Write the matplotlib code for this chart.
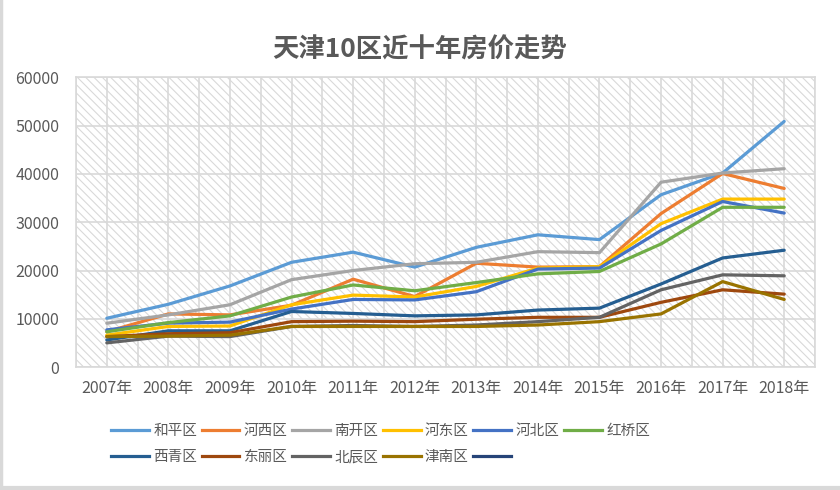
import matplotlib
matplotlib.use("Agg")
import matplotlib.pyplot as plt
from matplotlib.lines import Line2D
from matplotlib.patches import Rectangle

plt.rcParams['font.family'] = ['Noto Sans CJK SC', 'DejaVu Sans']
plt.rcParams['hatch.color'] = '#D9D9D9'
plt.rcParams['hatch.linewidth'] = 0.8

years = ['2007年', '2008年', '2009年', '2010年', '2011年', '2012年',
         '2013年', '2014年', '2015年', '2016年', '2017年', '2018年']

heping   = [10100, 13000, 16800, 21700, 23800, 20700, 24800, 27400, 26400, 35700, 40200, 50900]
hexi     = [7300, 11000, 10800, 12800, 18200, 14600, 21500, 20700, 20800, 31800, 40100, 37000]
nankai   = [9070, 10800, 12900, 18100, 20000, 21400, 21700, 23900, 23700, 38300, 40200, 41100]
hedong   = [6600, 8400, 8500, 12900, 14900, 14500, 16700, 20500, 20800, 29700, 34800, 34800]
hebei    = [7700, 9100, 9300, 12000, 14000, 13900, 15600, 20300, 20500, 28300, 34300, 31900]
hongqiao = [7300, 9200, 10600, 14500, 17000, 15800, 17500, 19300, 19800, 25500, 33100, 33100]
xiqing   = [5600, 7500, 7500, 11500, 11100, 10600, 10800, 11800, 12200, 17200, 22600, 24200]
dongli   = [6300, 6900, 7100, 9400, 9500, 9400, 9900, 10300, 10300, 13400, 16000, 15100]
beichen  = [5000, 6400, 6300, 8400, 8600, 8400, 8700, 9400, 10300, 16000, 19100, 18900]
jinnan   = [6300, 6400, 6600, 8400, 8400, 8400, 8400, 8700, 9400, 11000, 17700, 14000]

series = [
    ('和平区', heping, '#5B9BD5'),
    ('河西区', hexi, '#ED7D31'),
    ('南开区', nankai, '#A5A5A5'),
    ('河东区', hedong, '#FFC000'),
    ('河北区', hebei, '#4472C4'),
    ('红桥区', hongqiao, '#70AD47'),
    ('西青区', xiqing, '#255E91'),
    ('东丽区', dongli, '#9E480E'),
    ('北辰区', beichen, '#636363'),
    ('津南区', jinnan, '#997300'),
]
blank_color = '#264478'

W, H = 840, 490
fig = plt.figure(figsize=(W/100, H/100), dpi=100)
left, right, top, bottom = 76, 815, 77.5, 367
ax = fig.add_axes([left/W, 1-bottom/H, (right-left)/W, (bottom-top)/H])

# hatched background
ax.add_patch(Rectangle((0, 0), 1, 1, transform=ax.transAxes, facecolor='white',
                       edgecolor='#D9D9D9', hatch='\\\\\\\\', lw=0, zorder=0))

x = list(range(len(years)))
handles = {}
for name, vals, col in series:
    ax.plot(x, vals, color=col, lw=2.3, solid_capstyle='round', zorder=3)
    handles[name] = Line2D([], [], color=col, lw=2.3)
blank_handle = Line2D([], [], color=blank_color, lw=2.3)

ax.set_xlim(-0.5, len(years)-0.5)
ax.set_ylim(0, 60000)
ax.set_yticks(range(0, 60001, 10000))
ax.set_xticks(x)
ax.set_xticklabels(years)
ax.set_xticks([i - 0.5 for i in range(len(years)+1)], minor=True)
ax.grid(True, which='major', color='#D9D9D9', lw=1.2, zorder=1)
ax.grid(True, which='minor', axis='x', color='#D9D9D9', lw=1.2, zorder=1)
ax.tick_params(which='both', length=0)
ax.tick_params(axis='both', labelsize=11.5, labelcolor='#595959')
ax.tick_params(axis='y', pad=12)
ax.tick_params(axis='x', pad=9)
for sp in ax.spines.values():
    sp.set_color('#D9D9D9')
    sp.set_linewidth(1.2)
ax.set_axisbelow(True)

fig.text(420/W, 1-50/H, '天津10区近十年房价走势', ha='center', va='center',
         fontsize=19, fontweight='bold', color='#595959')

order = ['和平区', '西青区', '河西区', '东丽区', '南开区', '北辰区', '河东区', '津南区', '河北区', None, '红桥区']
hs, ls = [], []
for n in order:
    if n is None:
        hs.append(blank_handle); ls.append('')
    else:
        hs.append(handles[n]); ls.append(n)
leg = fig.legend(hs, ls, ncol=6, loc='upper left', bbox_to_anchor=(111/W, 1-424/H),
                 frameon=False, fontsize=10.5, handlelength=2.6, handletextpad=0.3,
                 columnspacing=0.3, labelspacing=0.85, borderpad=0, borderaxespad=0)
for t in leg.get_texts():
    t.set_color('#595959')

# figure border (left and bottom visible)
fig.add_artist(Line2D([1/W, 1/W], [0, 1], color='#D9D9D9', lw=2.5, transform=fig.transFigure))
fig.add_artist(Line2D([0, 1], [2/H, 2/H], color='#D9D9D9', lw=3, transform=fig.transFigure))

fig.savefig('out.png', dpi=100)
